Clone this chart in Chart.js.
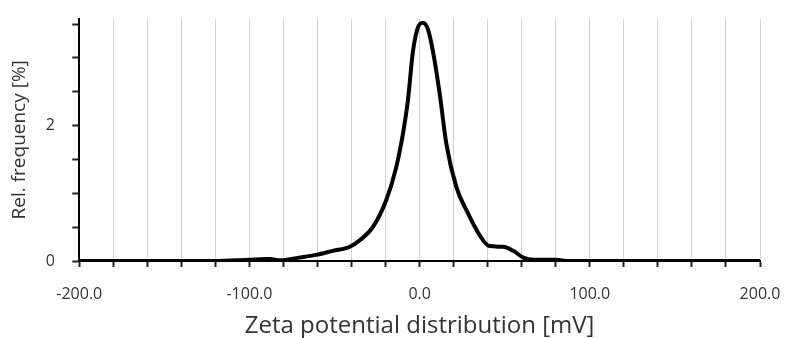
<!DOCTYPE html>
<html>
<head>
<meta charset="utf-8">
<script src="https://cdn.jsdelivr.net/npm/chart.js@4"></script>
<style>
  html, body { margin: 0; padding: 0; background: #fff; }
  #wrap { width: 785px; height: 338px; }
</style>
</head>
<body>
<div id="wrap"><canvas id="zeta" width="785" height="338"></canvas></div>
<script>
// zeta potential (mV) and relative frequency (%)
const zetaMv = [-200, -120, -100, -88, -82, -71, -61, -51, -41, -35, -27.5, -19.6, -13.7, -9.8, -6.9, -3.9, -1, 2, 4.9, 7.8, 11.8, 15.7, 21.6, 27.5, 35.3, 41, 49, 55, 61, 67, 80, 86, 100, 200];
const relFreq = [0, 0, 0.02, 0.03, 0.01, 0.05, 0.09, 0.15, 0.21, 0.31, 0.50, 0.90, 1.39, 1.88, 2.37, 3.10, 3.45, 3.52, 3.42, 3.10, 2.47, 1.73, 1.09, 0.75, 0.38, 0.22, 0.21, 0.15, 0.05, 0.02, 0.02, 0, 0, 0];

const xLabels = [-200, -100, 0, 100, 200];
const yLabels = [0, 2];

const FONT = '"Open Sans", "Noto Sans", sans-serif';

const points = zetaMv.map((x, i) => ({ x, y: relFreq[i] }));

new Chart(document.getElementById('zeta'), {
  type: 'line',
  data: {
    datasets: [{
      data: points,
      borderColor: '#000',
      borderWidth: 4,
      pointRadius: 0,
      fill: false,
      cubicInterpolationMode: 'monotone',
    }],
  },
  options: {
    responsive: false,
    animation: false,
    layout: { padding: { left: 8, right: 25, top: 0, bottom: 0 } },
    plugins: { legend: { display: false }, tooltip: { enabled: false } },
    scales: {
      x: {
        type: 'linear',
        min: -200,
        max: 200,
        ticks: {
          stepSize: 20,
          autoSkip: false,
          maxRotation: 0,
          padding: 2,
          color: '#333',
          // tall line box pushes the labels down without widening the side padding
          font: { family: FONT, size: 16, lineHeight: 3.125 },
          callback: v => xLabels.includes(v) ? v.toFixed(1) : '',
        },
        grid: {
          color: ctx => ctx.tick && ctx.tick.value === -200 ? 'rgba(0,0,0,0)' : '#d2d2d2',
          lineWidth: 1,
          borderDash: [2, 3],
          tickColor: '#222',
          tickBorderDash: [],
          tickWidth: 2,
          tickLength: 6,
        },
        border: { color: '#000', width: 2 },
        title: {
          display: true,
          text: 'Zeta potential distribution [mV]',
          color: '#333',
          font: { family: FONT, size: 24, lineHeight: 1 },
          padding: { top: -7, bottom: 0 },
        },
      },
      y: {
        min: 0,
        max: 3.58,
        afterBuildTicks: axis => {
          axis.ticks = [0, 0.5, 1, 1.5, 2, 2.5, 3, 3.5].map(v => ({ value: v }));
        },
        ticks: {
          autoSkip: false,
          padding: 9,
          color: '#333',
          font: { family: FONT, size: 16 },
          callback: v => yLabels.includes(v) ? String(v) + '  ' : '',
        },
        grid: {
          drawOnChartArea: false,
          tickColor: '#222',
          tickWidth: 2,
          tickLength: 7,
        },
        border: { color: '#000', width: 2 },
        title: {
          display: true,
          text: 'Rel. frequency [%]',
          color: '#333',
          font: { family: FONT, size: 19 },
          padding: { top: 0, bottom: 6 },
        },
      },
    },
  },
});
</script>
</body>
</html>
